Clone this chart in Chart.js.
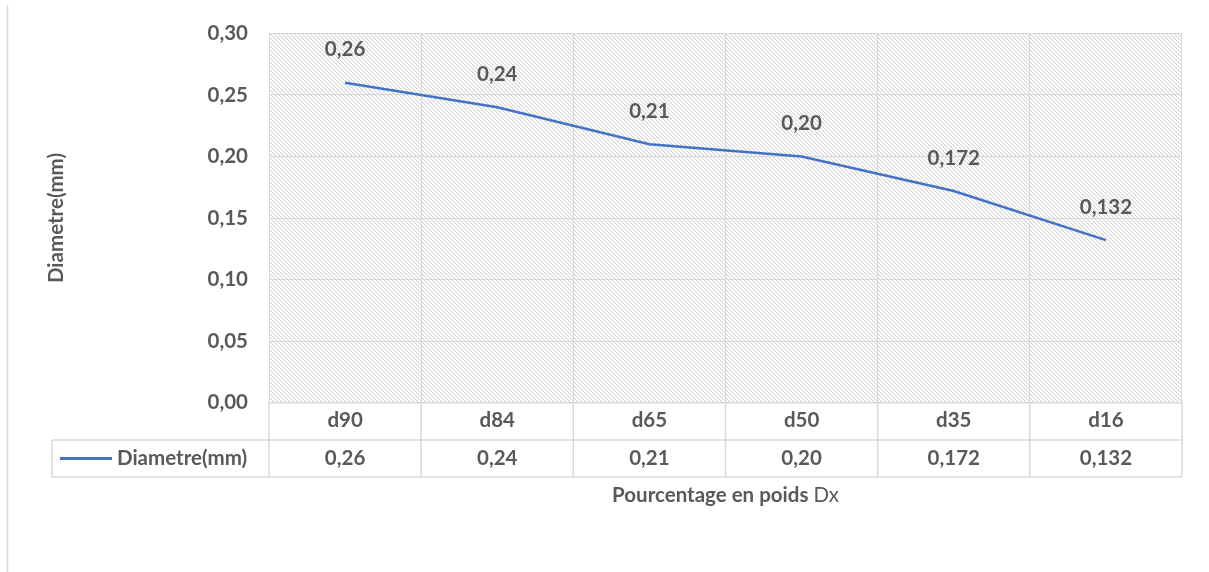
<!DOCTYPE html>
<html>
<head>
<meta charset="utf-8">
<script src="https://cdn.jsdelivr.net/npm/chart.js@4.4.1/dist/chart.umd.min.js"></script>
<style>
  html, body { margin: 0; padding: 0; background: #fff; }
  canvas { display: block; }
</style>
</head>
<body>
<canvas id="c" width="1209" height="572"></canvas>
<script>
// Grain-size values per fraction
const categories = ['d90', 'd84', 'd65', 'd50', 'd35', 'd16'];
const diametre = [0.26, 0.24, 0.21, 0.20, 0.172, 0.132];
const seriesName = 'Diametre(mm)';
const yTicks = [0, 0.05, 0.10, 0.15, 0.20, 0.25, 0.30];
const yTitle = 'Diametre(mm)';
const xTitleMain = 'Pourcentage en poids';
const xTitleSuffix = 'Dx';

const FONT = 'Lato, "Open Sans", sans-serif';
const TEXT = '#595959';
const GRID = '#d9d9d9';
const LINE = '#4472C4';
const FS = 20.5;

// French decimal format, 2 to 3 decimals
function fmtValue(v) {
  let s = v.toFixed(3);
  if (s.endsWith('0')) s = s.slice(0, -1);
  return s.replace('.', ',');
}
function fmtTick(v) { return v.toFixed(2).replace('.', ','); }

// Light downward-diagonal hatch for the plot background
function hatchPattern(ctx) {
  const t = document.createElement('canvas');
  t.width = 4; t.height = 4;
  const g = t.getContext('2d');
  g.fillStyle = '#ffffff';
  g.fillRect(0, 0, 4, 4);
  for (let i = 0; i < 4; i++) {
    g.fillStyle = '#d2d2d2';
    g.fillRect(i, i, 1, 1);
    g.fillStyle = '#f3f3f3';
    g.fillRect((i + 1) % 4, i, 1, 1);
  }
  return ctx.createPattern(t, 'repeat');
}

const decor = {
  id: 'decor',
  beforeDraw(chart) {
    const { ctx, chartArea: a } = chart;
    ctx.save();
    ctx.fillStyle = hatchPattern(ctx);
    ctx.fillRect(a.left, a.top, a.right - a.left, a.bottom - a.top);
    // outer frame edge
    ctx.strokeStyle = GRID;
    ctx.lineWidth = 1.5;
    ctx.beginPath();
    ctx.moveTo(7.5, 5);
    ctx.lineTo(7.5, 572);
    ctx.stroke();
    ctx.restore();
  },
  afterDatasetsDraw(chart) {
    const { ctx } = chart;
    const meta = chart.getDatasetMeta(0);
    ctx.save();
    ctx.font = `bold ${FS}px ${FONT}`;
    ctx.fillStyle = TEXT;
    ctx.textAlign = 'center';
    ctx.textBaseline = 'middle';
    meta.data.forEach((pt, i) => {
      ctx.fillText(fmtValue(diametre[i]), pt.x, pt.y - 33);
    });
    ctx.restore();
  },
  afterDraw(chart) {
    const { ctx, chartArea: a, scales } = chart;
    const x = scales.x;
    const n = categories.length;
    const step = (a.right - a.left) / n;
    const r1 = a.bottom, r2 = a.bottom + 37.5, r3 = a.bottom + 74.5;
    const legendLeft = 52;
    ctx.save();
    // data table grid
    ctx.strokeStyle = GRID;
    ctx.lineWidth = 1.5;
    ctx.beginPath();
    ctx.moveTo(legendLeft, r2); ctx.lineTo(a.right, r2);
    ctx.moveTo(legendLeft, r3); ctx.lineTo(a.right, r3);
    ctx.moveTo(legendLeft, r2); ctx.lineTo(legendLeft, r3);
    for (let i = 0; i <= n; i++) {
      const px = a.left + i * step;
      ctx.moveTo(px, r1); ctx.lineTo(px, r3);
    }
    ctx.stroke();
    // legend key
    ctx.strokeStyle = LINE;
    ctx.lineWidth = 3;
    const ky = (r2 + r3) / 2;
    ctx.beginPath();
    ctx.moveTo(60, ky); ctx.lineTo(112, ky);
    ctx.stroke();
    ctx.font = `bold ${FS}px ${FONT}`;
    ctx.fillStyle = TEXT;
    ctx.textBaseline = 'middle';
    ctx.textAlign = 'left';
    ctx.fillText(seriesName, 117, ky);
    // value row
    ctx.textAlign = 'center';
    diametre.forEach((v, i) => {
      ctx.fillText(fmtValue(v), x.getPixelForValue(i), ky);
    });
    // x axis title (bold main part, regular suffix)
    const boldFont = `bold ${FS}px ${FONT}`;
    const regFont = `${FS}px ${FONT}`;
    ctx.font = boldFont;
    const w1 = ctx.measureText(xTitleMain + ' ').width;
    ctx.font = regFont;
    const w2 = ctx.measureText(xTitleSuffix).width;
    const startX = (a.left + a.right) / 2 - (w1 + w2) / 2;
    ctx.textAlign = 'left';
    ctx.font = boldFont;
    ctx.fillText(xTitleMain + ' ', startX, 495);
    ctx.font = regFont;
    ctx.fillText(xTitleSuffix, startX + w1, 495);
    ctx.restore();
  }
};

new Chart(document.getElementById('c'), {
  type: 'line',
  data: {
    labels: categories,
    datasets: [{
      label: seriesName,
      data: diametre,
      borderColor: LINE,
      borderWidth: 2.5,
      pointRadius: 0,
      tension: 0,
      fill: false
    }]
  },
  options: {
    responsive: false,
    animation: false,
    layout: { padding: { top: 33.5, right: 27, bottom: 0, left: 0 } },
    plugins: { legend: { display: false }, tooltip: { enabled: false } },
    scales: {
      x: {
        offset: true,
        afterFit(s) { s.height = 169.5; },
        grid: { offset: true, color: GRID, lineWidth: 1, drawTicks: false },
        border: { display: true, color: GRID, width: 1.5 },
        ticks: {
          padding: 6,
          color: TEXT,
          font: { family: FONT, size: FS, weight: 'bold' }
        }
      },
      y: {
        min: 0,
        max: 0.3,
        afterFit(s) { s.width = 269; },
        afterBuildTicks(s) { s.ticks = yTicks.map(v => ({ value: v })); },
        grid: { color: GRID, lineWidth: 1, drawTicks: false },
        border: { display: false },
        ticks: {
          padding: 21,
          color: TEXT,
          font: { family: FONT, size: FS, weight: 'bold' },
          callback: v => fmtTick(v)
        },
        title: {
          display: true,
          text: yTitle,
          color: TEXT,
          font: { family: FONT, size: FS, weight: 'bold' },
          padding: { top: 44, bottom: 0 }
        }
      }
    }
  },
  plugins: [decor]
});
</script>
</body>
</html>
